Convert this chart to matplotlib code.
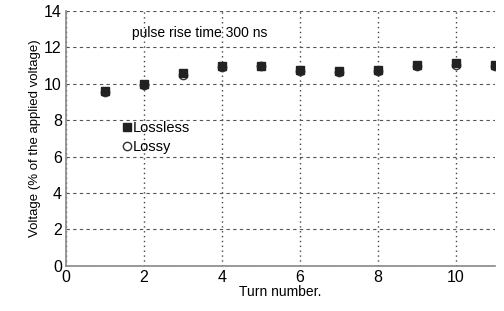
import matplotlib
matplotlib.use("Agg")
import matplotlib.pyplot as plt

plt.rcParams['font.family'] = ['Liberation Sans', 'DejaVu Sans']

turns = [1, 2, 3, 4, 5, 6, 7, 8, 9, 10, 11]
lossless = [9.6, 10.0, 10.6, 11.0, 11.0, 10.75, 10.7, 10.75, 11.05, 11.15, 11.05]
lossy = [9.55, 9.95, 10.5, 10.9, 10.95, 10.7, 10.65, 10.7, 10.95, 11.05, 10.95]

fig = plt.figure(figsize=(5.04, 3.11), dpi=100)
ax = fig.add_axes([0.131, 0.145, 0.851, 0.82])

ax.plot(turns, lossy, linestyle='none', marker='o', markersize=6,
        markerfacecolor='white', markeredgecolor='#333333', label='Lossy')
ax.plot(turns, lossless, linestyle='none', marker='s', markersize=6,
        color='#222222', label='Lossless')

ax.set_xlim(0, 11)
ax.set_ylim(0, 14)
ax.set_xticks([0, 2, 4, 6, 8, 10])
ax.set_yticks([0, 2, 4, 6, 8, 10, 12, 14])
# dashed horizontal, dotted vertical grid lines
ax.yaxis.grid(True, linestyle=(0, (3, 3)), color='#555555', linewidth=0.8)
ax.xaxis.grid(True, linestyle=(0, (1, 2.5)), color='#444444', linewidth=1.0)
for s in ['top', 'right']:
    ax.spines[s].set_visible(False)
for s in ['left', 'bottom']:
    ax.spines[s].set_color('#888888')
    ax.spines[s].set_linewidth(1.2)
ax.tick_params(length=0, labelsize=11.5, pad=3)

ax.set_xlabel('Turn number.', fontsize=10, labelpad=0)
ax.set_ylabel('Voltage (% of the applied voltage)', fontsize=9.5, labelpad=2)

ax.text(1.7, 12.8, 'pulse rise time 300 ns', fontsize=10, va='center')

h, l = ax.get_legend_handles_labels()
ax.legend(h[::-1], l[::-1], loc='upper left', bbox_to_anchor=(0.12, 0.59),
          frameon=False, handlelength=0.5, handletextpad=0.15,
          borderaxespad=0, labelspacing=0.3, fontsize=10.5)

plt.savefig('out.png', dpi=100)
